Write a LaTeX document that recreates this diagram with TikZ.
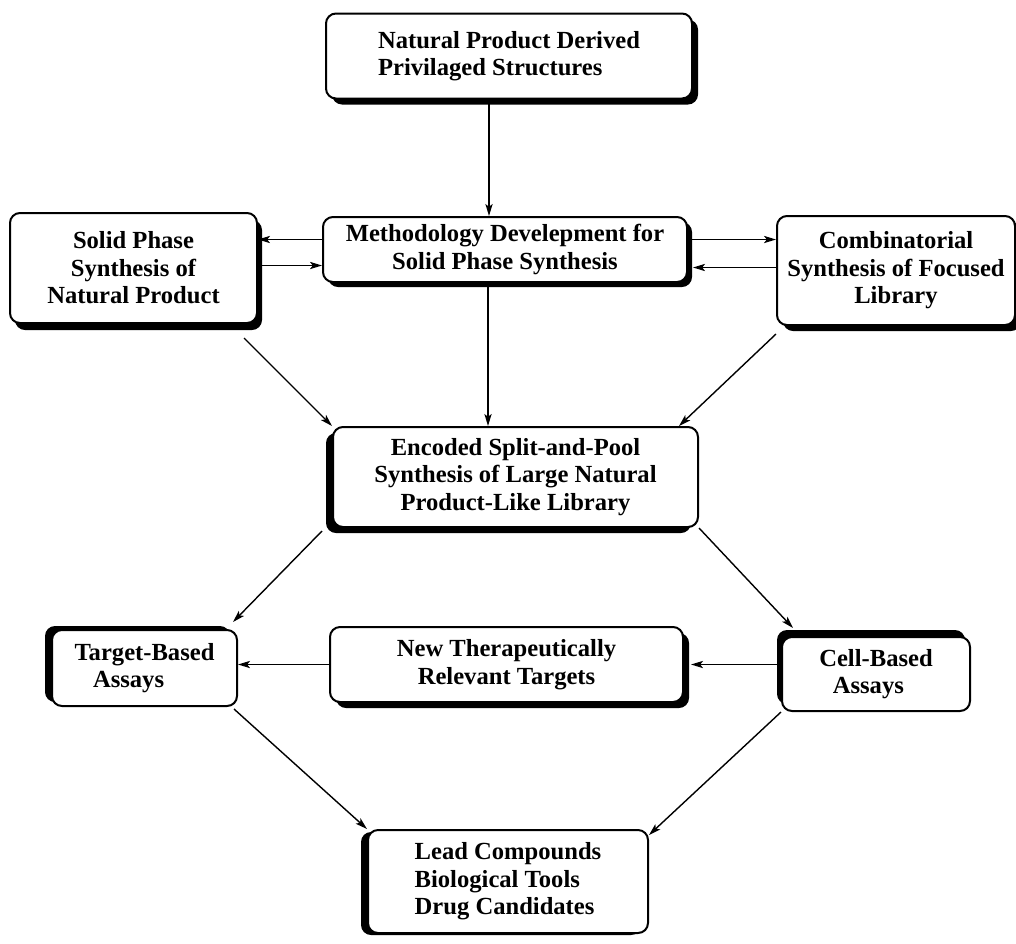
\documentclass[tikz,border=0pt]{standalone}
\usepackage{fontspec}
\setmainfont{Liberation Serif}
\usetikzlibrary{arrows.meta, shadows}

\begin{document}
\begin{tikzpicture}[x=0.5pt, y=-0.5pt,
  box/.style={draw, line width=1pt, rounded corners=5pt, fill=white,
    font=\bfseries\fontsize{12.3}{13.8}\selectfont, inner sep=0pt},
  shad/.style 2 args={drop shadow={shadow xshift=#1, shadow yshift=#2,
    fill=black, opacity=1}},
  arr/.style={-{Stealth[length=6pt, width=3.6pt, inset=1.4pt]}, line width=0.7pt}]

\useasboundingbox (0,0) rectangle (1016,943);

% Kaesten
\node[box, shad={3pt}{-3pt}, align=left, minimum width=183pt, minimum height=42.5pt]
  (nat) at (509,56) {Natural Product Derived\\Privilaged Structures};

\node[box, shad={2.5pt}{-3.5pt}, align=center, minimum width=123.5pt, minimum height=55pt]
  (solid) at (133.5,268) {Solid Phase\\Synthesis of\\Natural Product};
\node[box, shad={2.5pt}{-2.5pt}, align=center, minimum width=182pt, minimum height=32.5pt]
  (meth) at (505,249.5) {Methodology Develepment for\\Solid Phase Synthesis};
\node[box, shad={3pt}{-3pt}, align=center, minimum width=119pt, minimum height=54.5pt]
  (comb) at (896,270.5) {Combinatorial\\Synthesis of Focused\\Library};

\node[box, shad={-3.5pt}{-3pt}, align=center, minimum width=182.5pt, minimum height=50pt]
  (enc) at (515.5,477) {Encoded Split-and-Pool\\Synthesis of Large Natural\\Product-Like Library};

\node[box, shad={-3.5pt}{2pt}, align=left, minimum width=92.5pt, minimum height=38pt]
  (target) at (144.5,668) {Target-Based\\\hspace*{0.75em}Assays};
\node[box, shad={3pt}{-3pt}, align=center, minimum width=176.5pt, minimum height=37.5pt]
  (newt) at (506.5,664.5) {New Therapeutically\\Relevant Targets};
\node[box, shad={-2.5pt}{3.5pt}, align=left, minimum width=94pt, minimum height=37pt]
  (cell) at (876,674) {Cell-Based\\\hspace*{0.55em}Assays};

\node[box, shad={-3.5pt}{-1pt}, align=left, minimum width=140pt, minimum height=51.5pt]
  (lead) at (508,881.5) {Lead Compounds\\Biological Tools\\Drug Candidates};

% Pfeile oben
\draw[arr] ([xshift=-10pt]nat.south) -- ([xshift=-10pt]nat.south |- meth.north);
\draw[arr] ([yshift=5pt]meth.west) -- ([yshift=5pt]meth.west -| solid.east);
\draw[arr] ([yshift=-8pt]solid.east |- meth.west) -- ([yshift=-8pt]meth.west);
\draw[arr] ([yshift=5pt]meth.east) -- ([yshift=5pt]meth.east -| comb.west);
\draw[arr] ([yshift=-9pt]comb.west |- meth.east) -- ([yshift=-9pt,xshift=2.5pt]meth.east);

% Pfeile zur Bibliothek
\draw[arr] ([xshift=-8.5pt,yshift=-2pt]meth.south) -- ([xshift=-8.5pt]meth.south |- enc.north);
\draw[arr] ([shift={(-7pt,-7pt)}]solid.south east) -- (enc.north west);
\draw[arr] ([yshift=-4pt]comb.south west) -- ([xshift=-10pt]enc.north east);

% Assays
\draw[arr] ([shift={(-5pt,-1.5pt)}]enc.south west) -- ([shift={(-2.5pt,3.5pt)}]target.north east);
\draw[arr] (enc.south east) -- ([shift={(6pt,4pt)}]cell.north west);
\draw[arr] (newt.west) -- (newt.west -| target.east);
\draw[arr, shorten >=3.5pt] (newt.east -| cell.west) -- (newt.east);

% Ergebnis
\draw[arr] ([shift={(-2pt,-1pt)}]target.south east) -- (lead.north west);
\draw[arr] (cell.south west) -- ([yshift=-3pt]lead.north east);

\end{tikzpicture}
\end{document}
